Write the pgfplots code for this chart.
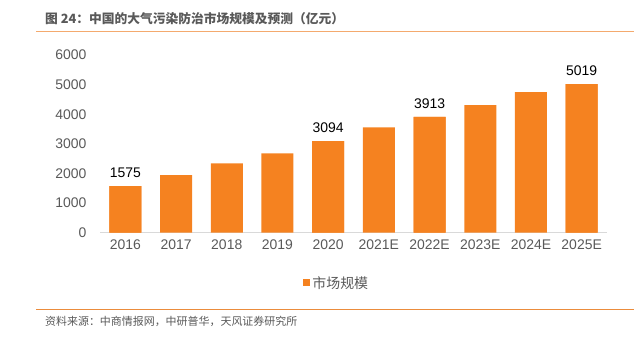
\documentclass[border=0pt]{standalone}
\usepackage{pgfplots}
\pgfplotsset{compat=1.18}
\usepackage{fontspec}
\setmainfont{Liberation Sans}
\newfontfamily\cjk{Noto Sans CJK SC}
\definecolor{barorange}{RGB}{245,130,32}
\definecolor{ticktext}{RGB}{89,89,89}
\definecolor{axisgray}{RGB}{217,217,217}
\definecolor{topline}{RGB}{244,170,110}
\definecolor{botline}{RGB}{235,140,60}
\begin{document}
\begin{tikzpicture}[x=1bp,y=1bp]
\path[use as bounding box] (0,0) rectangle (638,340);
% title
\node[anchor=west,inner sep=0pt,text=ticktext] at (45,321) {\fontsize{12.8}{15}\selectfont\cjk\bfseries 图 24：中国的大气污染防治市场规模及预测（亿元）};
\draw[topline,line width=1.2bp] (36,308.3) -- (634,308.3);
\draw[botline,line width=1.2bp] (36,30.7) -- (634,30.7);
\node[anchor=west,inner sep=0pt,text=ticktext] at (45,18.3) {\fontsize{11}{13}\selectfont\cjk 资料来源：中商情报网，中研普华，天风证券研究所};
\begin{axis}[
  at={(100bp,107.3bp)}, anchor=south west,
  scale only axis, width=507bp, height=177.7bp,
  xmin=-0.5, xmax=9.5, ymin=0, ymax=6000,
  ybar, bar width=32bp, bar shift=0pt,
  axis x line*=bottom, axis y line=none,
  x axis line style={axisgray, line width=1.5bp, -},
  xtick={0,...,9},
  xticklabels={2016,2017,2018,2019,2020,2021E,2022E,2023E,2024E,2025E},
  major tick length=0pt,
  xticklabel style={text=ticktext, font=\fontsize{14}{16}\selectfont, yshift=-4bp},
  ymajorticks=false,
  clip=false,
  /pgf/number format/assume math mode=true,
  /pgf/number format/1000 sep={},
  legend style={at={(0.467,-0.283)}, anchor=center, draw=none, fill=none,
    font=\fontsize{14}{16}\selectfont\cjk, text=ticktext},
  legend image code/.code={\fill[barorange] (0bp,-3.5bp) rectangle (7bp,3.5bp);},
  nodes near coords style={font=\fontsize{14}{16}\selectfont, text=black, inner sep=0pt, yshift=8bp},
]
\addplot[fill=barorange, draw=none] coordinates {
 (0,1575) (1,1940) (2,2345) (3,2680) (4,3094) (5,3560) (6,3913) (7,4305) (8,4745) (9,5019)};
\addlegendentry{市场规模}
\addplot[fill=barorange, draw=none, nodes near coords, forget plot] coordinates {
 (0,1575) (4,3094) (6,3913) (9,5019)};
\end{axis}
\begin{axis}[
  at={(100bp,107.3bp)}, anchor=south west,
  scale only axis, width=507bp, height=177.7bp,
  xmin=-0.5, xmax=9.5, ymin=0, ymax=6000,
  axis x line=none, axis y line*=left, y axis line style={draw=none},
  ytick={0,1000,...,6000}, major tick length=0pt,
  yticklabel style={text=ticktext, font=\fontsize{14}{16}\selectfont, xshift=-10bp},
  /pgf/number format/assume math mode=true,
  /pgf/number format/1000 sep={},
]
\addplot[draw=none] coordinates {(0,0)};
\end{axis}
\end{tikzpicture}
\end{document}
